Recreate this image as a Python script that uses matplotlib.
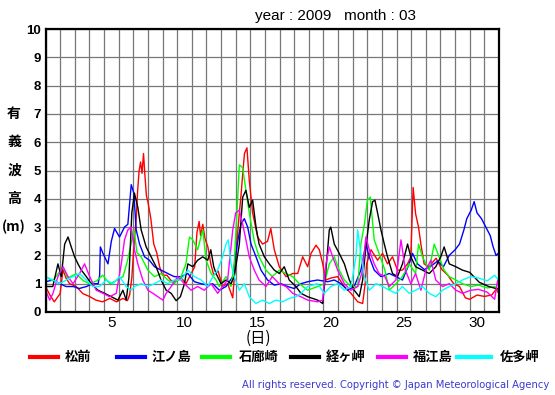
import matplotlib
matplotlib.use("Agg")
import matplotlib.pyplot as plt
from matplotlib.lines import Line2D
from matplotlib.transforms import blended_transform_factory

plt.rcParams['font.family'] = ['Liberation Sans', 'Noto Sans CJK JP', 'DejaVu Sans']
cjk = ['Noto Sans CJK JP', 'DejaVu Sans']

# significant wave height (m), (day position on axis 0..31, value)
matsumae = [(0.0, 0.9), (0.3, 0.6), (0.6, 0.36), (1.0, 0.65), (1.2, 1.5), (1.4, 1.2), (1.65, 1.0),
            (2.1, 0.9), (2.55, 0.65), (3.0, 0.55), (3.45, 0.42), (3.9, 0.36), (4.4, 0.48), (4.85, 0.36),
            (5.3, 0.48), (5.6, 0.4), (5.75, 0.6), (5.9, 1.2), (6.0, 2.0), (6.1, 2.7), (6.2, 3.3),
            (6.3, 4.3), (6.4, 5.0), (6.5, 5.3), (6.6, 4.9), (6.7, 5.6), (6.8, 4.8), (6.9, 4.1),
            (7.0, 3.9), (7.2, 3.3), (7.4, 2.4), (7.6, 2.1), (7.8, 1.6), (8.0, 1.3), (8.3, 1.3),
            (8.6, 1.1), (9.0, 1.1), (9.3, 1.2), (9.6, 1.0), (9.9, 1.3), (10.2, 1.6), (10.35, 2.8),
            (10.5, 3.2), (10.6, 2.7), (10.75, 3.1), (10.9, 2.6), (11.1, 2.3), (11.3, 1.7), (11.5, 1.3),
            (11.8, 1.45), (12.1, 0.9), (12.45, 1.0), (12.8, 0.5), (13.0, 1.9), (13.2, 3.2), (13.36, 4.1),
            (13.5, 5.0), (13.6, 5.6), (13.77, 5.8), (13.93, 4.65), (14.16, 3.5), (14.5, 2.65),
            (14.84, 2.4), (15.18, 2.5), (15.4, 2.95), (15.64, 2.2), (15.98, 1.6), (16.44, 1.25),
            (16.9, 1.36), (17.24, 1.36), (17.58, 1.95), (17.92, 1.6), (18.15, 2.07), (18.49, 2.36),
            (18.72, 2.2), (18.95, 1.7), (19.17, 1.13), (19.5, 1.2), (19.97, 1.25), (20.43, 0.9),
            (20.88, 0.66), (21.34, 0.36), (21.68, 0.3), (21.85, 1.0), (21.95, 1.7), (22.25, 2.2),
            (22.7, 1.83), (23.04, 2.07), (23.38, 1.7), (23.72, 1.95), (24.06, 1.48), (24.4, 1.48),
            (24.75, 1.7), (24.97, 1.95), (25.13, 4.4), (25.3, 3.47), (25.5, 3.0), (25.66, 2.4),
            (25.88, 1.7), (26.2, 1.6), (26.7, 1.9), (27.1, 1.5), (27.5, 1.3), (27.9, 1.0), (28.3, 0.9),
            (28.7, 0.5), (29.0, 0.45), (29.5, 0.6), (30.0, 0.55), (30.5, 0.6), (30.8, 0.8), (31.0, 0.65)]

enoshima = [(0.0, 1.07), (0.5, 1.13), (1.0, 1.0), (1.4, 0.9), (1.9, 0.9), (2.3, 0.83), (2.8, 0.9),
            (3.2, 1.0), (3.6, 1.0), (3.7, 1.3), (3.75, 2.3), (3.93, 2.07), (4.27, 1.7), (4.5, 2.5),
            (4.72, 2.95), (5.06, 2.65), (5.4, 3.0), (5.63, 3.1), (5.86, 4.5), (6.04, 4.2), (6.2, 2.9),
            (6.43, 2.4), (6.77, 1.95), (7.1, 1.83), (7.45, 1.6), (7.9, 1.48), (8.36, 1.36), (8.8, 1.25),
            (9.27, 1.25), (9.73, 1.36), (10.18, 1.07), (10.64, 1.0), (11.09, 0.95), (11.43, 1.0),
            (11.88, 0.77), (12.34, 0.9), (12.8, 1.25), (13.14, 2.5), (13.36, 3.1), (13.59, 3.3),
            (13.82, 3.0), (14.05, 2.4), (14.39, 1.95), (14.73, 1.48), (15.18, 1.13), (15.64, 0.95),
            (16.1, 1.0), (16.55, 0.9), (17.0, 0.83), (17.46, 1.0), (17.92, 1.07), (18.6, 1.13),
            (19.29, 1.07), (19.74, 1.13), (20.2, 1.0), (20.65, 0.77), (21.1, 0.9), (21.56, 1.48),
            (21.9, 2.4), (22.13, 1.95), (22.47, 1.48), (22.93, 1.25), (23.5, 1.36), (23.95, 1.25),
            (24.4, 1.13), (24.86, 1.7), (25.09, 2.07), (25.43, 1.7), (25.9, 1.5), (26.3, 1.6),
            (26.8, 1.8), (27.2, 1.6), (27.6, 2.0), (28.0, 2.2), (28.3, 2.4), (28.6, 2.9), (28.8, 3.3),
            (29.1, 3.6), (29.3, 3.9), (29.5, 3.5), (29.8, 3.3), (30.1, 3.0), (30.4, 2.7), (30.6, 2.3),
            (30.8, 2.0), (31.0, 2.1)]

irozaki = [(0.0, 1.25), (0.5, 1.1), (1.2, 1.6), (1.5, 1.2), (2.1, 1.35), (2.6, 1.1), (3.0, 1.0),
           (3.5, 1.1), (3.9, 1.3), (4.4, 1.0), (4.8, 1.1), (5.3, 1.25), (5.6, 1.8), (5.85, 2.4),
           (6.05, 2.9), (6.25, 2.1), (6.54, 1.95), (7.0, 1.48), (7.45, 1.25), (7.9, 1.36), (8.36, 1.13),
           (8.8, 1.0), (9.27, 1.25), (9.6, 1.7), (9.84, 2.65), (10.07, 2.55), (10.4, 2.2), (10.75, 2.9),
           (10.98, 1.83), (11.32, 1.36), (11.66, 1.13), (11.88, 0.9), (12.34, 1.25), (12.68, 0.9),
           (12.9, 1.7), (13.14, 4.06), (13.25, 5.2), (13.48, 5.1), (13.7, 4.3), (13.93, 3.5),
           (14.27, 2.5), (14.6, 1.95), (15.07, 1.48), (15.5, 1.25), (15.98, 1.48), (16.44, 1.36),
           (16.9, 1.25), (17.35, 1.0), (17.92, 0.77), (18.6, 0.9), (19.06, 1.0), (19.4, 1.7),
           (19.74, 1.95), (20.08, 1.48), (20.43, 1.13), (20.88, 0.9), (21.34, 0.9), (21.56, 2.4),
           (21.8, 3.1), (22.0, 3.95), (22.2, 4.06), (22.47, 2.55), (22.8, 2.07), (23.2, 1.48),
           (23.5, 0.77), (23.95, 1.0), (24.4, 1.25), (24.86, 1.7), (25.3, 1.36), (25.5, 2.4),
           (25.77, 1.95), (26.23, 1.48), (26.57, 2.4), (26.9, 1.95), (27.25, 1.48), (27.6, 1.25),
           (28.05, 1.13), (28.5, 1.0), (29.07, 0.9), (29.6, 0.95), (30.2, 0.85), (30.7, 0.9), (31.0, 0.8)]

kyogamisaki = [(0.0, 0.9), (0.5, 0.9), (0.85, 1.7), (1.08, 1.25), (1.31, 2.4), (1.54, 2.65), (1.76, 2.3),
               (1.99, 1.95), (2.22, 1.7), (2.45, 1.48), (2.79, 1.25), (3.13, 1.0), (3.58, 0.77),
               (4.04, 0.66), (4.5, 0.54), (4.95, 0.42), (5.29, 0.77), (5.52, 0.42), (5.7, 1.2),
               (5.9, 3.5), (6.08, 4.2), (6.31, 3.7), (6.54, 2.9), (6.88, 2.3), (7.22, 1.95), (7.56, 1.6),
               (7.9, 1.13), (8.25, 0.77), (8.59, 0.66), (8.93, 0.4), (9.22, 0.54), (9.5, 1.0),
               (9.73, 1.7), (10.07, 1.6), (10.4, 1.83), (10.75, 1.95), (11.09, 1.83), (11.3, 2.2),
               (11.5, 1.6), (11.66, 1.36), (12.0, 1.0), (12.34, 1.13), (12.68, 1.0), (12.9, 1.25),
               (13.25, 2.4), (13.48, 4.06), (13.7, 4.3), (13.93, 3.7), (14.16, 3.95), (14.39, 3.0),
               (14.6, 2.4), (14.96, 1.95), (15.3, 1.7), (15.64, 1.48), (15.98, 1.36), (16.32, 1.6),
               (16.66, 1.13), (17.12, 0.9), (17.46, 0.66), (17.92, 0.54), (18.6, 0.42), (18.95, 0.3),
               (19.17, 1.48), (19.4, 2.9), (19.5, 3.0), (19.74, 2.4), (20.08, 2.07), (20.43, 1.7),
               (20.77, 1.13), (21.1, 0.77), (21.45, 0.54), (21.68, 1.13), (21.9, 2.3), (22.13, 3.25),
               (22.36, 3.9), (22.52, 3.95), (22.7, 3.5), (22.93, 2.9), (23.16, 2.4), (23.38, 1.95),
               (23.72, 1.36), (24.06, 1.25), (24.4, 1.7), (24.75, 2.4), (24.97, 1.95), (25.3, 1.6),
               (25.77, 1.48), (26.23, 1.36), (26.68, 1.6), (27.02, 1.95), (27.25, 2.3), (27.6, 1.7),
               (28.05, 1.6), (28.5, 1.48), (29.0, 1.4), (29.65, 1.05), (30.3, 0.9), (31.0, 0.8)]

fukuejima = [(0.0, 0.77), (0.29, 0.42), (0.51, 0.66), (0.85, 1.25), (1.2, 1.6), (1.54, 1.25), (1.88, 1.0),
             (2.33, 1.36), (2.67, 1.7), (3.02, 1.25), (3.47, 0.77), (3.93, 0.66), (4.38, 0.54),
             (4.84, 0.66), (5.18, 1.7), (5.4, 2.55), (5.63, 2.9), (5.86, 3.0), (6.08, 2.2), (6.31, 1.7),
             (6.65, 1.13), (7.0, 0.77), (7.34, 0.66), (7.68, 0.54), (8.02, 0.42), (8.25, 0.66),
             (8.59, 0.9), (9.04, 1.25), (9.5, 1.0), (9.95, 0.77), (10.4, 0.9), (10.86, 0.77),
             (11.32, 1.0), (11.77, 0.66), (12.1, 0.9), (12.45, 1.13), (12.8, 2.9), (13.0, 3.5),
             (13.25, 3.6), (13.48, 3.1), (13.7, 2.55), (13.93, 1.95), (14.27, 1.48), (14.6, 1.13),
             (15.07, 0.9), (15.5, 1.25), (15.98, 1.0), (16.44, 0.9), (16.9, 0.66), (17.46, 0.54),
             (17.92, 0.42), (18.6, 0.36), (18.95, 0.42), (19.17, 1.7), (19.4, 2.3), (19.63, 1.95),
             (19.97, 1.48), (20.43, 1.0), (20.88, 0.77), (21.34, 0.9), (21.68, 1.48), (21.9, 2.65),
             (22.13, 2.2), (22.47, 1.7), (22.8, 1.36), (23.2, 1.25), (23.5, 0.9), (23.95, 1.13),
             (24.3, 2.55), (24.6, 1.48), (24.97, 1.0), (25.3, 1.36), (25.66, 0.77), (26.0, 1.48),
             (26.34, 1.83), (26.68, 1.13), (27.14, 0.9), (27.6, 1.0), (28.05, 0.77), (28.5, 0.66),
             (29.07, 0.77), (29.6, 0.8), (30.2, 0.7), (30.7, 0.45), (30.9, 1.1)]

satamisaki = [(0.0, 1.25), (0.51, 1.13), (0.97, 1.0), (1.42, 1.13), (1.88, 1.25), (2.33, 1.36), (2.79, 1.13),
              (3.24, 0.9), (3.7, 0.9), (4.15, 1.13), (4.61, 1.0), (5.06, 1.25), (5.52, 0.9), (5.86, 0.77),
              (6.08, 0.9), (6.54, 1.0), (7.0, 0.9), (7.45, 1.0), (7.9, 1.13), (8.36, 1.0), (8.8, 1.13),
              (9.27, 1.13), (9.73, 1.48), (10.18, 1.25), (10.64, 1.13), (11.09, 0.9), (11.43, 1.25),
              (11.77, 1.48), (12.1, 1.95), (12.34, 2.4), (12.5, 2.55), (12.68, 1.7), (12.9, 1.25),
              (13.25, 0.77), (13.59, 1.0), (13.93, 0.54), (14.39, 0.3), (14.84, 0.42), (15.3, 0.3),
              (15.75, 0.42), (16.2, 0.36), (16.66, 0.48), (17.12, 0.54), (17.46, 0.66), (17.92, 0.9),
              (18.6, 1.0), (19.06, 0.66), (19.5, 0.9), (19.97, 1.0), (20.43, 0.77), (20.88, 0.9),
              (21.22, 1.95), (21.34, 2.9), (21.52, 2.2), (21.8, 1.25), (22.13, 0.77), (22.6, 1.0),
              (23.04, 0.9), (23.5, 0.77), (23.95, 0.66), (24.4, 0.9), (24.86, 0.66), (25.3, 0.77),
              (25.77, 0.9), (26.23, 0.66), (26.68, 0.54), (27.14, 0.77), (27.6, 0.9), (28.05, 1.0),
              (28.5, 1.13), (29.07, 1.25), (29.6, 1.2), (30.2, 1.1), (30.7, 1.3), (31.0, 1.1)]

stations = ['松前', '江ノ島', '石廊崎', '経ヶ岬', '福江島', '佐多岬']
colors = ['#ff0000', '#0000ff', '#00ff00', '#000000', '#ff00ff', '#00ffff']
series = [matsumae, enoshima, irozaki, kyogamisaki, fukuejima, satamisaki]
day_labels = [5, 10, 15, 20, 25, 30]
ylabel_chars = ['有', '義', '波', '高', '(m)']

W, H = 555, 395
fig = plt.figure(figsize=(W / 100, H / 100), dpi=100)
ax = fig.add_axes([45.5 / W, 1 - 312 / H, 453.5 / W, 283 / H])

for data, c in zip(series, colors):
    t, v = zip(*data)
    ax.plot(t, v, color=c, lw=1.0)

ax.set_xlim(0, 31)
ax.set_ylim(0, 10)
ax.set_xticks(range(32), minor=True)
ax.set_xticks([d - 0.5 for d in day_labels])
ax.set_xticklabels([str(d) for d in day_labels], fontsize=11)
ax.set_yticks(range(11))
ax.set_yticklabels([str(i) for i in range(11)], fontsize=9.5, fontweight='bold')
ax.tick_params(which='both', length=0)
ax.tick_params(axis='x', pad=3)
ax.tick_params(axis='y', pad=3)
ax.grid(which='minor', axis='x', color='#777777', lw=0.9)
ax.grid(which='major', axis='y', color='#777777', lw=0.9)
ax.set_axisbelow(True)
for s in ax.spines.values():
    s.set_linewidth(1.6)

tr = blended_transform_factory(fig.transFigure, ax.transData)
for ch, yv in zip(ylabel_chars, [7, 6, 5, 4, 3]):
    ax.text(14 / W, yv, ch, transform=tr, family=cjk, fontsize=10, fontweight='bold',
            ha='center', va='center')

fig.text(258 / W, 1 - 338 / H, '(日)', family=cjk, fontsize=11, ha='center', va='center')
fig.text(335 / W, 1 - 16 / H, 'year : 2009   month : 03', fontsize=11, ha='center', va='center')

line_x = [(29.5, 58), (116.5, 145), (201.5, 230), (291, 318.5), (378, 405.5), (457, 490.5)]
label_x = [65, 152, 239, 326, 412.5, 499.5]
ly = 1 - 357 / H
for (x0, x1), lx, name, c in zip(line_x, label_x, stations, colors):
    fig.add_artist(Line2D([x0 / W, x1 / W], [ly, ly], color=c, lw=3, transform=fig.transFigure))
    fig.text(lx / W, ly, name, family=cjk, fontsize=9.5, fontweight='bold', ha='left', va='center')

fig.text(549 / W, 1 - 385 / H, 'All rights reserved. Copyright \u00a9 Japan Meteorological Agency',
         fontsize=7.2, color='#3a3acf', ha='right', va='center', family=['DejaVu Sans'])

fig.savefig('out.png', dpi=100)
